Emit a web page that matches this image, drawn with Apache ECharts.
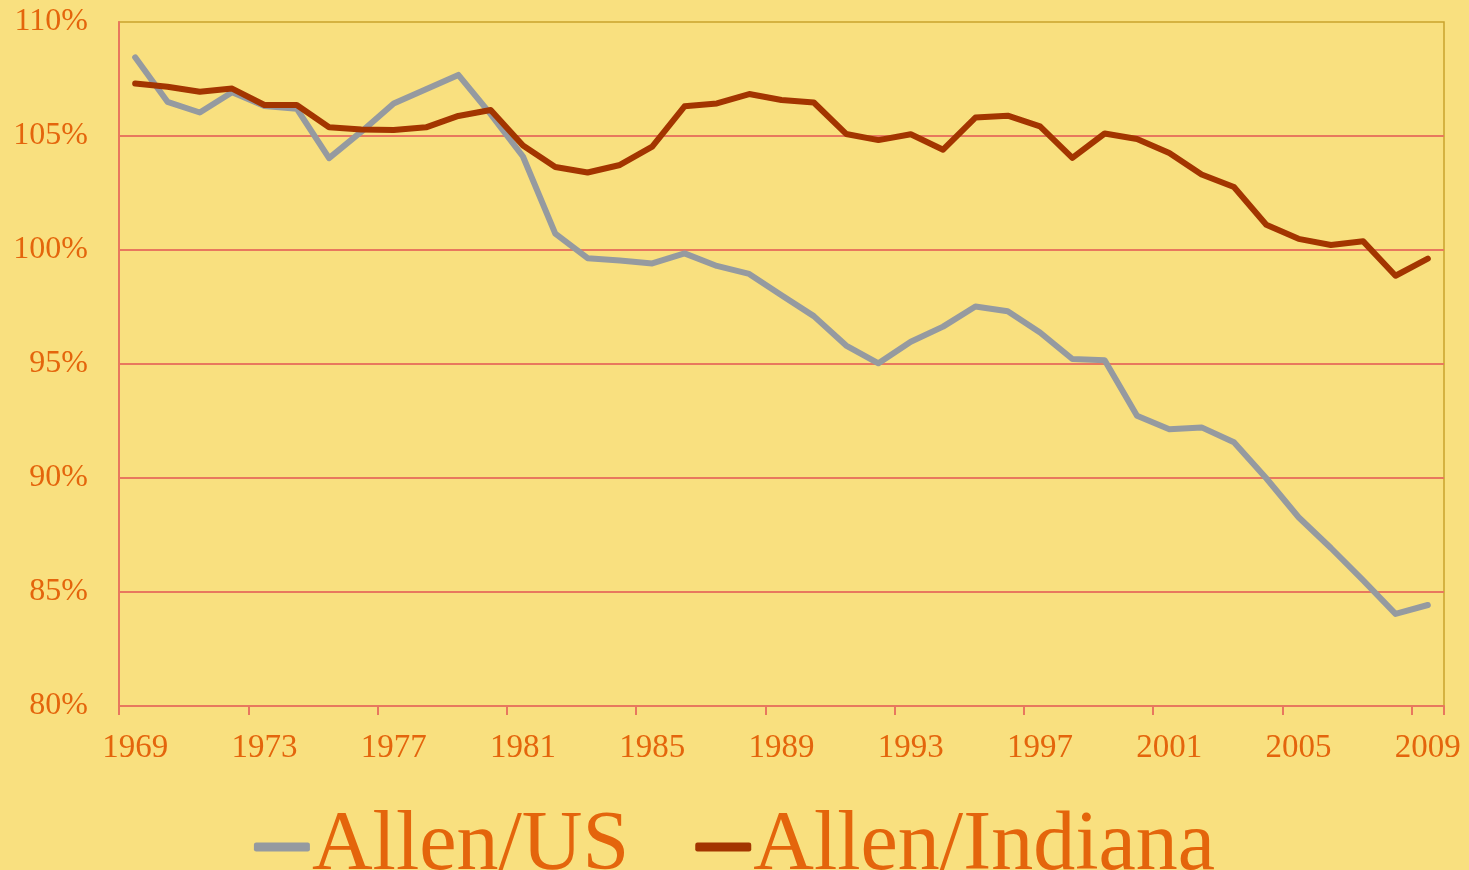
<!DOCTYPE html>
<html>
<head>
<meta charset="utf-8">
<script src="https://cdn.jsdelivr.net/npm/echarts@6/dist/echarts.min.js"></script>
<style>
html,body{margin:0;padding:0;background:#F9E07F;}
#chart{width:1469px;height:870px;}
</style>
</head>
<body>
<div id="chart"></div>
<script>
const years = [];
for (let y = 1969; y <= 2009; y++) years.push(String(y));

const allenUS = [
  108.45, 106.50, 106.03, 106.92, 106.32, 106.20, 104.03, 105.19, 106.43, 107.05,
  107.68, 105.96, 104.10, 100.72, 99.64, 99.54, 99.41, 99.85, 99.30, 98.95,
  98.01, 97.10, 95.81, 95.03, 95.98, 96.64, 97.52, 97.31, 96.38, 95.22,
  95.16, 92.73, 92.14, 92.22, 91.57, 89.99, 88.28, 86.93, 85.51, 84.04,
  84.43
];
const allenIndiana = [
  107.30, 107.16, 106.94, 107.08, 106.36, 106.36, 105.38, 105.28, 105.26, 105.38,
  105.88, 106.14, 104.58, 103.64, 103.40, 103.73, 104.53, 106.30, 106.43, 106.84,
  106.58, 106.47, 105.09, 104.82, 105.08, 104.40, 105.81, 105.89, 105.42, 104.04,
  105.11, 104.87, 104.25, 103.31, 102.76, 101.11, 100.49, 100.22, 100.38, 98.87,
  99.62
];
const seriesNames = ['Allen/US', 'Allen/Indiana'];
const yMin = 80, yMax = 110, yStep = 5;

const orange = '#E4650C';
const salmon = '#E8785E';
const font = '"Liberation Serif", "Times New Roman", serif';

const chart = echarts.init(document.getElementById('chart'));
chart.setOption({
  backgroundColor: '#F9E07F',
  animation: false,
  grid: {
    left: 119, right: 25, top: 22, bottom: 164,
    show: true, borderColor: '#C9A22E', borderWidth: 1.5, backgroundColor: 'transparent'
  },
  legend: {
    data: seriesNames,
    bottom: -24,
    left: 'center',
    itemWidth: 56,
    itemHeight: 9,
    itemGap: 66,
    icon: 'roundRect',
    textStyle: { color: orange, fontFamily: font, fontSize: 84, padding: [0, 0, 0, -3] }
  },
  xAxis: {
    type: 'category',
    data: years,
    boundaryGap: true,
    axisLine: { show: true, lineStyle: { color: salmon, width: 2 } },
    axisTick: { show: true, interval: 3, length: 9, alignWithLabel: false, lineStyle: { color: salmon, width: 2 } },
    axisLabel: { interval: 3, color: orange, fontFamily: font, fontSize: 33, margin: 26 },
    splitLine: { show: false }
  },
  yAxis: {
    type: 'value',
    min: yMin, max: yMax, interval: yStep,
    axisLine: { show: true, lineStyle: { color: salmon, width: 2 } },
    axisTick: { show: false },
    axisLabel: { color: orange, fontFamily: font, fontSize: 32, margin: 31, lineHeight: 44, verticalAlign: 'middle', formatter: '{value}%' },
    splitLine: { show: true, showMaxLine: false, showMinLine: false, lineStyle: { color: salmon, width: 2 } }
  },
  series: [
    {
      name: seriesNames[0], type: 'line', data: allenUS, showSymbol: false, symbol: 'none',
      lineStyle: { color: '#959AA0', width: 6, cap: 'round', join: 'round' },
      itemStyle: { color: '#959AA0' }
    },
    {
      name: seriesNames[1], type: 'line', data: allenIndiana, showSymbol: false, symbol: 'none',
      lineStyle: { color: '#A33500', width: 6, cap: 'round', join: 'round' },
      itemStyle: { color: '#A33500' }
    }
  ]
});
</script>
</body>
</html>
